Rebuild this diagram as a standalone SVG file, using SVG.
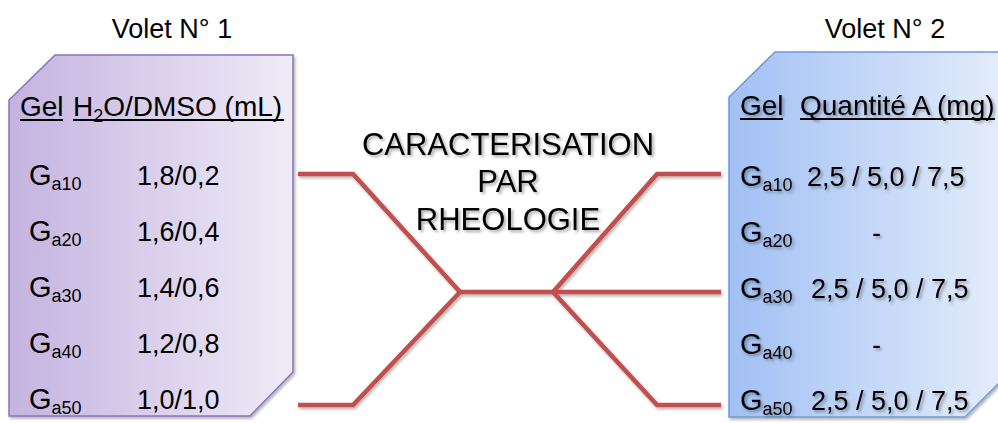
<svg xmlns="http://www.w3.org/2000/svg" width="998" height="423" viewBox="0 0 998 423">
<defs>
<linearGradient id="gPurple" x1="0" y1="0" x2="1" y2="0">
<stop offset="0" stop-color="#c4b3e0"/>
<stop offset="1" stop-color="#efebf7"/>
</linearGradient>
<linearGradient id="gBlue" x1="0" y1="0" x2="1" y2="0">
<stop offset="0" stop-color="#a2c0f4"/>
<stop offset="1" stop-color="#e6eefb"/>
</linearGradient>
<filter id="tshadow" x="-10%" y="-20%" width="120%" height="150%">
<feDropShadow dx="2" dy="2" stdDeviation="1.5" flood-color="#000" flood-opacity="0.35"/>
</filter>
<filter id="lshadow" x="-10%" y="-10%" width="120%" height="120%">
<feDropShadow dx="1.5" dy="2" stdDeviation="1.5" flood-color="#000" flood-opacity="0.3"/>
</filter>
</defs>
<style>
text { font-family: "Liberation Sans", Arial, sans-serif; fill: #000; }
.t { font-size: 27px; }
.g { font-size: 29px; }
.h { font-size: 28px; }
.sub { font-size: 18px; }
.c { font-size: 31px; text-anchor: middle; }
.sh { filter: url(#tshadow); }
.ul { stroke: #000; stroke-width: 2; }
.conn { fill: none; stroke: #c0504d; stroke-width: 4.5; stroke-linejoin: miter; }
</style>
<rect width="998" height="423" fill="#fff"/>

<g id="volet1-title"><text class="t" x="172" y="38" text-anchor="middle">Volet N° 1</text></g>
<g id="volet2-title"><text class="t" x="885" y="38" text-anchor="middle">Volet N° 2</text></g>

<g id="volet1">
<path d="M55,55 L293,55 L293,372 L250,416 L9,416 L9,100 Z" fill="url(#gPurple)" stroke="#8a73bd" stroke-width="1.5" filter="url(#lshadow)"/>
<text class="h" x="20" y="116">Gel</text>
<line class="ul" x1="20" y1="120" x2="63" y2="120"/>
<text class="h" x="73" y="116">H<tspan class="sub" dy="6">2</tspan><tspan dy="-6">O/DMSO (mL)</tspan></text>
<line class="ul" x1="73" y1="120" x2="284" y2="120"/>
<text class="g" x="29" y="185">G<tspan class="sub" dy="5">a10</tspan></text>
<text class="t" x="137" y="185">1,8/0,2</text>
<text class="g" x="29" y="241">G<tspan class="sub" dy="5">a20</tspan></text>
<text class="t" x="137" y="241">1,6/0,4</text>
<text class="g" x="29" y="297">G<tspan class="sub" dy="5">a30</tspan></text>
<text class="t" x="137" y="297">1,4/0,6</text>
<text class="g" x="29" y="353">G<tspan class="sub" dy="5">a40</tspan></text>
<text class="t" x="137" y="353">1,2/0,8</text>
<text class="g" x="29" y="409">G<tspan class="sub" dy="5">a50</tspan></text>
<text class="t" x="137" y="409">1,0/1,0</text>
</g>

<g id="volet2">
<path d="M775,52 L1010,52 L1010,372 L965,417 L729,417 L729,97 Z" fill="url(#gBlue)" stroke="#6f9ad6" stroke-width="1.5" filter="url(#lshadow)"/>
<g class="sh">
<text class="h" x="740" y="115">Gel</text>
<text class="h" x="800" y="115">Quantité A (mg)</text>
<text class="g" x="740" y="186">G<tspan class="sub" dy="5">a10</tspan></text>
<text class="t" x="807" y="186">2,5 / 5,0 / 7,5</text>
<text class="g" x="740" y="242">G<tspan class="sub" dy="5">a20</tspan></text>
<text class="t" x="872" y="242">-</text>
<text class="g" x="740" y="298">G<tspan class="sub" dy="5">a30</tspan></text>
<text class="t" x="811" y="298">2,5 / 5,0 / 7,5</text>
<text class="g" x="740" y="354">G<tspan class="sub" dy="5">a40</tspan></text>
<text class="t" x="872" y="354">-</text>
<text class="g" x="740" y="410">G<tspan class="sub" dy="5">a50</tspan></text>
<text class="t" x="811" y="410">2,5 / 5,0 / 7,5</text>
</g>
<line class="ul" x1="740" y1="119" x2="783" y2="119"/>
<line class="ul" x1="800" y1="119" x2="995" y2="119"/>
</g>

<g id="center-label" class="sh">
<text class="c" x="508" y="155">CARACTERISATION</text>
<text class="c" x="508" y="192">PAR</text>
<text class="c" x="508" y="230">RHEOLOGIE</text>
</g>

<g id="connectors" filter="url(#lshadow)">
<path class="conn" d="M298,174 L353,174 L460,292"/>
<path class="conn" d="M298,405 L353,405 L460,292"/>
<path class="conn" d="M460,292 L721,292"/>
<path class="conn" d="M553,292 L657,174 L721,174"/>
<path class="conn" d="M553,292 L657,405 L721,405"/>
</g>
</svg>
